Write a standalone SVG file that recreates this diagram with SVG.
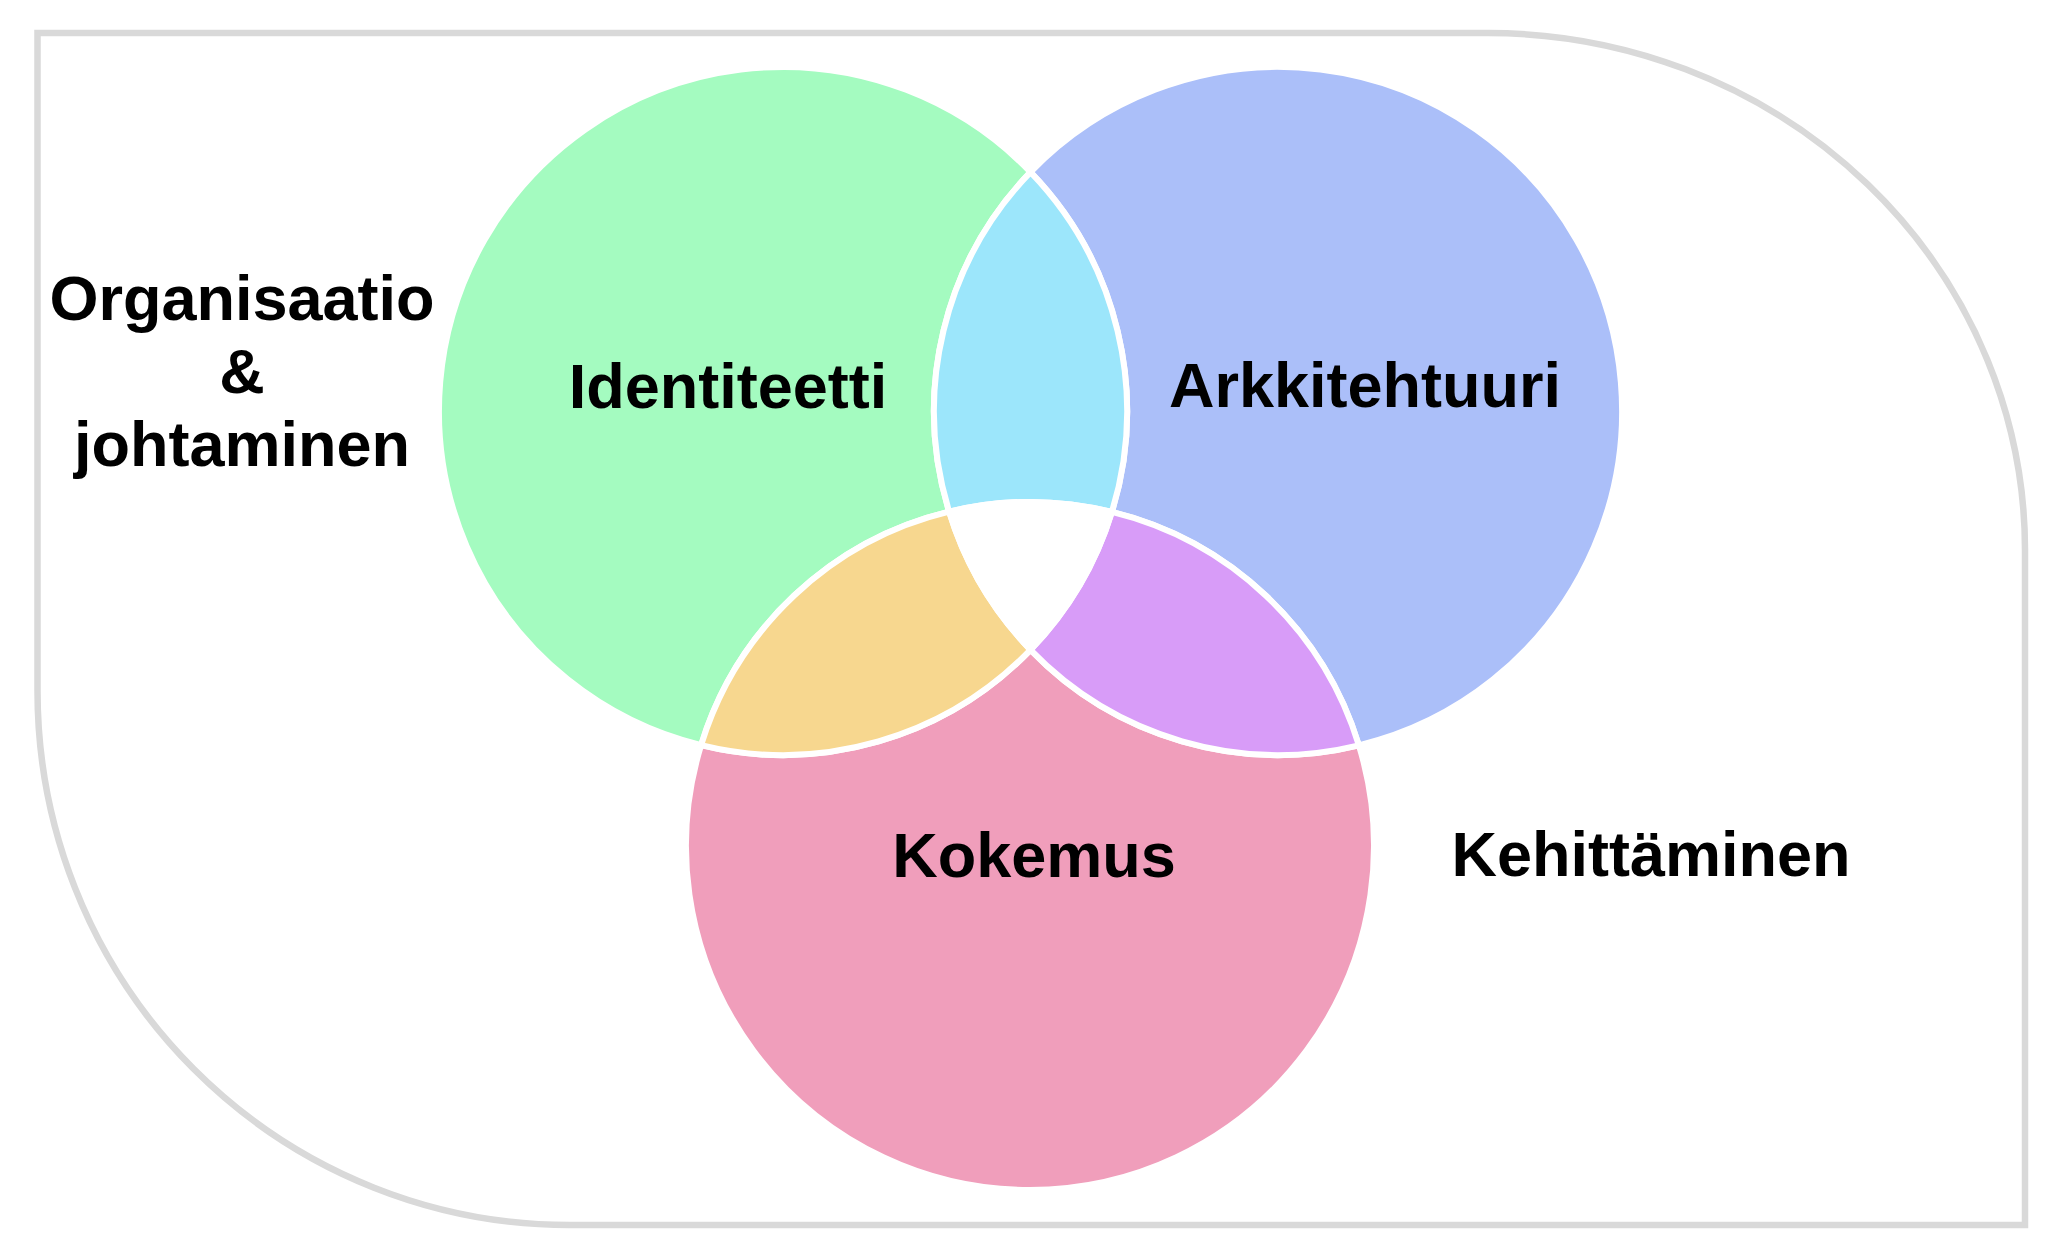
<svg xmlns="http://www.w3.org/2000/svg" width="2048" height="1248" viewBox="0 0 2048 1248">
<style>
.frame{fill:#ffffff;stroke:#d9d9d9;stroke-width:6.5}
.reg{stroke:#ffffff;stroke-width:6;stroke-linejoin:miter}
.lbl{font-family:"Liberation Sans",Arial,Helvetica,sans-serif;font-weight:bold;font-size:63px;fill:#000000;text-anchor:middle}
</style>
<rect width="2048" height="1248" fill="#ffffff"/>
<g id="frame">
<path class="frame" d="M37.5 33 H1488 A537 517 0 0 1 2025 550 V1225 H570 A532 534 0 0 1 37.5 691 Z"/>
</g>
<g id="connectors"></g>
<g id="identiteetti">
<path class="reg" fill="#a4fbc0" d="M1030.5 172.1 A344 344 0 1 0 701.1 745.1 A344 344 0 0 1 949.1 511.7 A344 344 0 0 1 1030.5 172.1 Z"/>
<text class="lbl" x="728" y="408">Identiteetti</text>
</g>
<g id="arkkitehtuuri">
<path class="reg" fill="#abbff9" d="M1030.5 172.1 A344 344 0 1 1 1358.9 745.3 A344 344 0 0 0 1111.9 511.9 A344 344 0 0 0 1030.5 172.1 Z"/>
<text class="lbl" x="1365" y="407">Arkkitehtuuri</text>
</g>
<g id="kokemus">
<path class="reg" fill="#f09ebb" d="M701.1 745.1 A344 344 0 1 0 1358.9 745.3 A344 344 0 0 1 1030.5 649.9 A344 344 0 0 1 701.1 745.1 Z"/>
<text class="lbl" x="1034" y="877">Kokemus</text>
</g>
<g id="identiteetti-arkkitehtuuri">
<path class="reg" fill="#9ce6fb" d="M1030.5 172.1 A344 344 0 0 1 1111.9 511.9 A344 344 0 0 0 949.1 511.7 A344 344 0 0 1 1030.5 172.1 Z"/>
</g>
<g id="identiteetti-kokemus">
<path class="reg" fill="#f7d78f" d="M701.1 745.1 A344 344 0 0 1 949.1 511.7 A344 344 0 0 0 1030.5 649.9 A344 344 0 0 1 701.1 745.1 Z"/>
</g>
<g id="arkkitehtuuri-kokemus">
<path class="reg" fill="#d89cf8" d="M1358.9 745.3 A344 344 0 0 0 1111.9 511.9 A344 344 0 0 1 1030.5 649.9 A344 344 0 0 0 1358.9 745.3 Z"/>
</g>
<g id="center">
<path class="reg" fill="#ffffff" d="M949.1 511.7 A344 344 0 0 1 1111.9 511.9 A344 344 0 0 1 1030.5 649.9 A344 344 0 0 1 949.1 511.7 Z"/>
</g>
<g id="organisaatio">
<text class="lbl" x="242" y="320">Organisaatio</text>
<text class="lbl" x="242" y="393">&amp;</text>
<text class="lbl" x="242" y="466">johtaminen</text>
</g>
<g id="kehittaminen">
<text class="lbl" x="1651" y="876">Kehittäminen</text>
</g>
</svg>
